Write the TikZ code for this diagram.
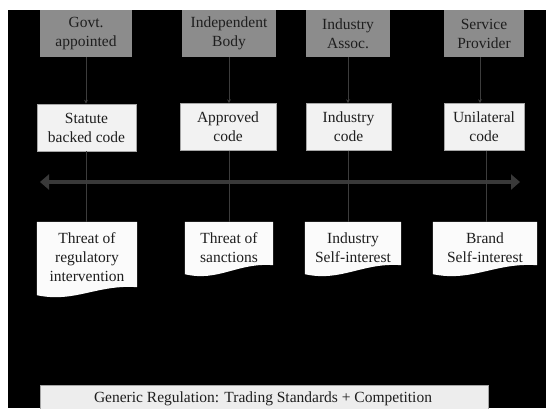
\documentclass[tikz,border=0pt]{standalone}
\usepackage{fontspec}
\setmainfont{Liberation Serif}
\usetikzlibrary{arrows.meta,calc}
\definecolor{topgray}{HTML}{8C8C8C}
\definecolor{midfill}{HTML}{F2F2F2}
\definecolor{botfill}{HTML}{EDEDED}
\definecolor{linegray}{HTML}{3C3C3C}
\definecolor{bigarrow}{HTML}{393939}
\definecolor{txt}{HTML}{1E1E1E}
\tikzset{
  base/.style={font=\fontsize{15.5}{19}\selectfont, text=txt, align=center, inner sep=0pt},
  topbox/.style={base, fill=topgray, minimum height=47pt},
  midbox/.style={base, fill=midfill, draw=gray!70, line width=0.6pt, minimum height=47pt},
  docbox/.style={base, minimum height=#1},
  docfill/.style={fill=white!97!gray},
  botbox/.style={base, fill=botfill, draw=gray!70, line width=0.6pt},
  feed/.style={draw=linegray, line width=0.8pt, -{Stealth[length=4pt,width=4pt]}},
  drop/.style={draw=linegray, line width=0.8pt},
  scale arrow/.style={draw=bigarrow, line width=4.5pt, {Triangle[length=9pt,width=15pt]}-{Triangle[length=9pt,width=15pt]}}
}
\newcommand\docshape[2]{%
  \fill[docfill] (#1.north west) -- (#1.north east) -- (#1.south east)
    .. controls ($(#1.south east)!0.4!(#1.south west)+(0,-3)$)
    and ($(#1.south east)!0.62!(#1.south west)+(0,#2+8)$)
    .. ($(#1.south west)+(0,#2)$) -- cycle;}
\begin{document}
\begin{tikzpicture}[x=1pt,y=-1pt]
\useasboundingbox (0,0) rectangle (546,408);
\clip (0,0) rectangle (546,408);
\fill[white] (0,0) rectangle (546,408);
\fill[black] (8,10) rectangle (546,408);

% top row
\node[topbox, minimum width=92pt] (gov) at (86,33.5) {Govt.\\appointed};
\node[topbox, minimum width=94pt] (ind) at (229,33.5) {Independent\\Body};
\node[topbox, minimum width=84pt] (ass) at (348,33.5) {Industry\\Assoc.};
\node[topbox, minimum width=80pt] (svc) at (484,33.5) {Service\\Provider};

% middle row
\node[midbox, minimum width=99pt] (stat) at (86.5,127.5) {Statute\\backed code};
\node[midbox, minimum width=96pt] (appr) at (228,127) {Approved\\code};
\node[midbox, minimum width=85pt] (icode) at (348.5,127) {Industry\\code};
\node[midbox, minimum width=80pt] (ucode) at (484,127) {Unilateral\\code};

% scale arrow
\coordinate (sl) at (40,182);
\coordinate (sr) at (520,182);
\draw[scale arrow] (sl) -- (sr);

% documents
\node[docbox=65pt, minimum width=100pt] (reg) at (87,254.5) {};
\node[docbox=43pt, minimum width=88pt] (sanc) at (229,243.5) {};
\node[docbox=43pt, minimum width=96pt] (iself) at (353,243.5) {};
\node[docbox=43pt, minimum width=104pt] (bself) at (485,243.5) {};
\docshape{reg}{8}
\docshape{sanc}{9}
\docshape{iself}{9}
\docshape{bself}{9}
\node[base] (regt) at ([yshift=-3pt]reg.center) {Threat of\\regulatory\\intervention};
\node[base] (danct) at ([yshift=-4pt]sanc.center) {Threat of\\sanctions};
\node[base] (iselft) at ([yshift=-4pt]iself.center) {Industry\\Self-interest};
\node[base] (bselft) at ([yshift=-4pt]bself.center) {Brand\\Self-interest};

% connectors
\coordinate (sv) at ([xshift=-4pt]svc.south);
\coordinate (ub) at ([xshift=2pt]ucode.south);
\draw[feed] (gov.south) -- (stat.north -| gov.south);
\draw[feed] (ind.south) -- (appr.north -| ind.south);
\draw[feed] (ass.south) -- (icode.north -| ass.south);
\draw[feed] (sv) -- (ucode.north -| sv);
\draw[drop] (stat.south -| gov.south) -- (reg.north -| gov.south);
\draw[drop] (appr.south -| ind.south) -- (sanc.north -| ind.south);
\draw[drop] (icode.south) -- (iself.north -| icode.south);
\draw[drop] (ub) -- (bself.north -| ub);

% bottom
\node[botbox, minimum width=448pt, minimum height=50pt, anchor=north] (gen) at (264,385) {};
\node[base] (gentext) at (263,399) {Generic Regulation: Trading Standards + Competition};
\end{tikzpicture}
\end{document}
